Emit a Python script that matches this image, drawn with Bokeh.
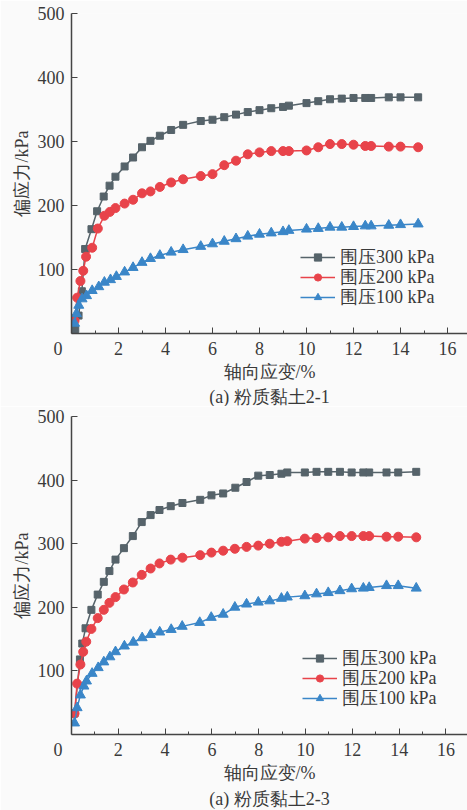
from bokeh.plotting import figure
from bokeh.layouts import column
from bokeh.models import FixedTicker, Legend, LegendItem, Title, Range1d
from bokeh.embed import file_html
from bokeh.resources import INLINE

# ---------------- data ----------------
x_ticks = [0, 2, 4, 6, 8, 10, 12, 14, 16]
x_minor = [1, 3, 5, 7, 9, 11, 13, 15]
y_ticks = [100, 200, 300, 400, 500]
series_names = ["围压300 kPa", "围压200 kPa", "围压100 kPa"]
x_title = "轴向应变/%"
y_title = "偏应力/kPa"
captions = ["(a) 粉质黏土2-1", "(a) 粉质黏土2-3"]

# chart 1 (粉质黏土2-1)
x_a300 = [0.16, 0.3, 0.44, 0.58, 0.85, 1.09, 1.37, 1.62, 1.87, 2.26, 2.62, 3.0, 3.36, 3.76, 4.24, 4.75, 5.5, 6.0,
          6.5, 7.0, 7.5, 8.0, 8.5, 9.0, 9.25, 10.0, 10.5, 11.0, 11.5, 12.0, 12.5, 12.75, 13.5, 14.0, 14.75]
y_a300 = [7, 28, 66, 132, 163, 191, 214, 231, 245, 261, 275, 291, 301, 309, 318, 326, 332, 334,
          338, 342, 346, 349, 352, 354, 356, 360, 363, 366, 367, 368, 368, 368, 369, 369, 369]
x_a200 = [0.13, 0.24, 0.38, 0.5, 0.62, 0.88, 1.12, 1.4, 1.63, 1.87, 2.26, 2.62, 3.0, 3.36, 3.76, 4.24, 4.75, 5.5,
          6.0, 6.5, 7.0, 7.5, 8.0, 8.5, 9.0, 9.25, 10.0, 10.5, 11.0, 11.5, 12.0, 12.5, 12.75, 13.5, 14.0, 14.75]
y_a200 = [20, 56, 82, 98, 120, 134, 164, 184, 190, 196, 203, 209, 219, 222, 229, 236, 241, 246,
          249, 263, 270, 280, 283, 285, 285, 285, 286, 291, 296, 296, 295, 293, 293, 292, 292, 291]
x_a100 = [0.13, 0.21, 0.31, 0.45, 0.64, 0.88, 1.16, 1.4, 1.66, 1.91, 2.26, 2.62, 3.0, 3.36, 3.76, 4.24, 4.75, 5.5,
          6.0, 6.5, 7.0, 7.5, 8.0, 8.5, 9.0, 9.25, 10.0, 10.5, 11.0, 11.5, 12.0, 12.5, 12.75, 13.5, 14.0, 14.75]
y_a100 = [16, 31, 44, 54, 59, 67, 73, 80, 84, 89, 96, 103, 111, 117, 122, 127, 131, 136,
          140, 144, 148, 152, 155, 157, 159, 161, 163, 164, 166, 166, 167, 168, 168, 169, 170, 171]

# chart 2 (粉质黏土2-3)
x_b300 = [0.13, 0.36, 0.46, 0.6, 0.85, 1.12, 1.38, 1.62, 1.88, 2.24, 2.62, 3.0, 3.38, 3.76, 4.24, 4.74, 5.5, 5.98,
          6.48, 7.0, 7.48, 7.98, 8.47, 8.97, 9.22, 9.97, 10.47, 10.97, 11.47, 11.97, 12.47, 12.72, 13.46, 13.96, 14.73]
y_b300 = [33, 118, 143, 167, 196, 220, 240, 257, 275, 293, 312, 334, 345, 353, 359, 364, 369, 376,
          379, 388, 397, 407, 408, 410, 412, 412, 413, 413, 413, 412, 412, 412, 412, 412, 413]
x_b200 = [0.13, 0.24, 0.38, 0.5, 0.63, 0.85, 1.12, 1.38, 1.62, 1.88, 2.24, 2.62, 3.0, 3.38, 3.76, 4.24, 4.74, 5.5,
          5.98, 6.48, 6.98, 7.48, 7.98, 8.47, 8.97, 9.22, 9.97, 10.47, 10.97, 11.47, 11.97, 12.47, 12.72, 13.46, 13.96, 14.73]
y_b200 = [33, 80, 110, 130, 146, 166, 183, 196, 207, 216, 228, 239, 251, 261, 269, 275, 278, 282,
          286, 289, 292, 295, 297, 300, 303, 304, 308, 309, 310, 312, 312, 312, 312, 311, 311, 310]
x_b100 = [0.13, 0.24, 0.38, 0.53, 0.64, 0.88, 1.14, 1.38, 1.64, 1.88, 2.26, 2.64, 3.02, 3.38, 3.77, 4.26, 4.73, 5.48,
          5.97, 6.48, 6.98, 7.48, 7.98, 8.47, 8.97, 9.22, 9.97, 10.47, 10.97, 11.47, 11.97, 12.47, 12.72, 13.46, 13.96, 14.73]
y_b100 = [18, 42, 62, 76, 84, 96, 105, 114, 122, 130, 139, 145, 152, 157, 161, 165, 170, 176,
          184, 189, 200, 205, 208, 210, 214, 216, 218, 221, 223, 226, 229, 230, 231, 234, 234, 230]

# ---------------- styles ----------------
FONT = "Liberation Serif, serif"
TXT = "#3a3a3a"
AX = "#444444"
BG = "#fafafa"
C300, C200, C100 = "#56636a", "#e8434a", "#3a86c8"


def make_chart(series, caption, top_border, frame_h, bottom_border, x_end, legend_x, legend_ys, cap_standoff):
    p = figure(frame_width=396, frame_height=frame_h, output_backend="svg", toolbar_location=None,
               x_range=Range1d(0, x_end), y_range=Range1d(0, 500),
               min_border_left=71, min_border_right=0, min_border_top=top_border,
               min_border_bottom=bottom_border,
               background_fill_color=BG, border_fill_color=BG, outline_line_color=None)
    p.grid.visible = False

    specs = [("square", 7), ("circle", 9), ("triangle", 10)]
    for (xs, ys, col, name), (mk, sz), ly in zip(series, specs, legend_ys):
        ln = p.line(xs, ys, line_color=col, line_width=1.5)
        sc = p.scatter(xs, ys, marker=mk, size=sz, fill_color=col, line_color=col)
        # one legend per row so the row pitch matches the source figure
        leg = Legend(items=[LegendItem(label=name, renderers=[ln, sc])], location=(legend_x, ly),
                     border_line_color=None, background_fill_alpha=0, padding=0, margin=0,
                     glyph_width=35, glyph_height=18, label_height=18, spacing=0, label_standoff=5,
                     label_text_font=FONT, label_text_font_size="18px", label_text_color=TXT)
        p.add_layout(leg)

    for ax in (p.xaxis[0], p.yaxis[0]):
        ax.axis_line_color = AX
        ax.axis_line_width = 1.5
        ax.major_tick_line_color = AX
        ax.minor_tick_line_color = AX
        ax.major_tick_in = 6
        ax.major_tick_out = 0
        ax.minor_tick_in = 3
        ax.minor_tick_out = 0
        ax.major_label_text_font = FONT
        ax.major_label_text_font_size = "18px"
        ax.major_label_text_color = TXT
        ax.axis_label_text_font = FONT
        ax.axis_label_text_font_size = "18px"
        ax.axis_label_text_font_style = "normal"
        ax.axis_label_text_color = TXT

    p.xaxis.ticker = FixedTicker(ticks=x_ticks, minor_ticks=x_minor)
    # origin label sits a little left of the axis corner, as in the source figure
    p.xaxis.major_label_overrides = {0: "0\u00a0\u00a0\u00a0\u00a0\u00a0\u00a0"}
    p.xaxis.major_label_standoff = 5
    p.xaxis.axis_label = x_title
    p.xaxis.axis_label_standoff = 0

    p.yaxis.ticker = FixedTicker(ticks=y_ticks, minor_ticks=[])
    p.yaxis.major_label_standoff = 7
    p.yaxis.axis_label = y_title
    p.yaxis.axis_label_standoff = 3

    cap = Title(text=caption, align="center", text_font=FONT, text_font_size="18px",
                text_font_style="normal", text_color=TXT, standoff=cap_standoff, offset=0)
    p.add_layout(cap, "below")
    return p


p1 = make_chart([(x_a300, y_a300, C300, series_names[0]),
                 (x_a200, y_a200, C200, series_names[1]),
                 (x_a100, y_a100, C100, series_names[2])],
                captions[0], 13, 320, 72, 16.85, 229, [64, 44, 24], 0)
p2 = make_chart([(x_b300, y_b300, C300, series_names[0]),
                 (x_b200, y_b200, C200, series_names[1]),
                 (x_b100, y_b100, C100, series_names[2])],
                captions[1], 10, 318, 75, 16.92, 231, [64, 44, 24], 3)

layout = column(p1, p2, spacing=0)
open("out.html", "w").write(file_html(layout, INLINE))
